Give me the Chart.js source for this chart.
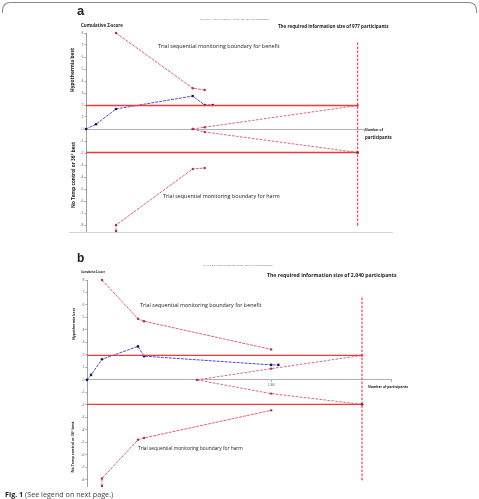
<!DOCTYPE html>
<html>
<head>
<meta charset="utf-8">
<script src="https://cdn.jsdelivr.net/npm/chart.js@4.4.1/dist/chart.umd.min.js"></script>
<style>
  body { margin:0; width:479px; height:499px; position:relative; background:#fff; overflow:hidden; font-family:"Open Sans", sans-serif; }
  canvas { position:absolute; left:0; }
  .t { position:absolute; white-space:nowrap; color:#222; line-height:1; }
  .b { font-weight:bold; }
  .r { transform:translate(-50%,-50%) rotate(-90deg); }
  .frame { position:absolute; left:2px; top:2px; width:473px; height:10px; border:1px solid #8a8a8a; border-bottom:none; border-radius:8px 8px 0 0; }
  .rule { position:absolute; left:69px; top:232px; width:324px; border-top:1px solid #d4d4d4; }
</style>
</head>
<body>
<div class="frame"></div>
<div class="rule"></div>
<canvas id="chartA" width="479" height="250" style="top:0"></canvas>
<canvas id="chartB" width="479" height="249" style="top:250px"></canvas>

<div class="t b" style="left:77px;top:4px;font-size:13px;font-family:'Liberation Sans'">a</div>
<div class="t" data-x="200" data-y="19.5" data-w="70" style="color:#666">TS: RIS 977, Alpha 5%, Beta 20%, Pc 50%, RRR 20%, Trial heterogeneity</div>
<div class="t b" data-x="81" data-y="24.5" data-w="42">Cumulative Z-score</div>
<div class="t b" data-x="278" data-y="26" data-w="111">The required information size of 977 participants</div>
<div class="t" data-x="158" data-y="46.5" data-w="122">Trial sequential monitoring boundary for benefit</div>
<div class="t" data-x="163" data-y="196.5" data-w="117">Trial sequential monitoring boundary for harm</div>
<div class="t b" data-x="365" data-y="129" data-w="18">Number of</div>
<div class="t b" data-x="365" data-y="136.5" data-w="27">participants</div>
<div class="t b r" data-cx="72" data-cy="70" data-w="44">Hypothermia best</div>
<div class="t b r" data-cx="73" data-cy="175" data-w="66">No Temp control  or 36° best</div>

<div class="t b" style="left:77px;top:252px;font-size:12px;font-family:'Liberation Sans'">b</div>
<div class="t" data-x="203" data-y="266" data-w="70" style="color:#666">TS: RIS 2,040, Alpha 5%, Beta 20%, Pc 50%, RRR 15%, Trial heterogeneity</div>
<div class="t b" data-x="81" data-y="272.5" data-w="24">Cumulative Z-score</div>
<div class="t b" data-x="267" data-y="275.5" data-w="130">The required information size of 2,040 participants</div>
<div class="t" data-x="140" data-y="305" data-w="122">Trial sequential monitoring boundary for benefit</div>
<div class="t" data-x="138" data-y="448.5" data-w="105">Trial sequential monitoring boundary for harm</div>
<div class="t b" data-x="368" data-y="386.5" data-w="40">Number of participants</div>
<div class="t b r" data-cx="74" data-cy="324" data-w="32">Hypothermia best</div>
<div class="t b r" data-cx="73" data-cy="447" data-w="51">No Temp control  or 36° best</div>

<div class="t" data-x="5" data-y="494" data-w="108" style="color:#444"><b style="color:#222">Fig. 1</b> (See legend on next page.)</div>

<script>
// panel a: cumulative Z-curve and boundaries (participants, z)
const aBlueX = [0, 36, 108, 384, 427, 456];
const aBlueZ = [0, 0.4, 1.67, 2.75, 2.0, 2.0];
const aBenefitX = [108, 384, 427];
const aBenefitZ = [8, 3.4, 3.25];
const aHarmX = [108, 108, 384, 427];
const aHarmZ = [-8.5, -8, -3.33, -3.25];
const aFutUpX = [384, 427, 977];
const aFutUpZ = [0, 0.15, 1.96];
const aFutLoX = [384, 427, 977];
const aFutLoZ = [0, -0.25, -1.96];
const aRIS = 977;
const aRISZ = [7.2, -8];

// panel b
const bBlueX = [0, 30, 111, 378, 423, 1366, 1420];
const bBlueZ = [0, 0.4, 1.65, 2.68, 1.9, 1.2, 1.2];
const bBenefitX = [111, 378, 423, 1366];
const bBenefitZ = [8, 4.9, 4.7, 2.44];
const bHarmX = [111, 111, 378, 423, 1366];
const bHarmZ = [-8.5, -7.9, -4.8, -4.65, -2.44];
const bFutUpX = [816, 1366, 2040];
const bFutUpZ = [0, 0.9, 1.96];
const bFutLoX = [816, 1366, 2040];
const bFutLoZ = [0, -1.1, -1.96];
const bRIS = 2040;
const bRISZ = [6.6, -8];
const bXTicks = [1366];

const zConv = 1.96;
const yTicks = [-8, -7, -6, -5, -4, -3, -2, -1, 0, 1, 2, 3, 4, 5, 6, 7, 8];

const pts = (xs, zs) => xs.map((x, i) => ({ x: x, y: zs[i] }));

const pink = '#e2607a';
const red = '#ea3b3b';
const blue = '#4a4ad6';

function line(data, color, opts) {
  return Object.assign({
    data: data, showLine: true, borderColor: color, backgroundColor: color,
    borderWidth: 1, pointRadius: 1.2, pointBorderWidth: 0, clip: false
  }, opts || {});
}

function makeChart(id, p) {
  new Chart(document.getElementById(id).getContext('2d'), {
    type: 'scatter',
    data: {
      datasets: [
        line([{ x: 0, y: zConv }, { x: p.ris, y: zConv }], red, { borderWidth: 1.3, pointRadius: 0 }),
        line([{ x: 0, y: -zConv }, { x: p.ris, y: -zConv }], red, { borderWidth: 1.3, pointRadius: [0, 1.3], backgroundColor: '#a02030' }),
        line([{ x: p.ris, y: p.risZ[0] }, { x: p.ris, y: p.risZ[1] }], '#ee4a62', { borderWidth: 1.2, borderDash: [2.5, 1.5], pointRadius: [0, 0.8] }),
        line(pts(p.futUpX, p.futUpZ), pink, { borderDash: [2.5, 1.5], backgroundColor: '#b03048' }),
        line(pts(p.futLoX, p.futLoZ), pink, { borderDash: [2.5, 1.5], backgroundColor: '#b03048' }),
        line(pts(p.benefitX, p.benefitZ), pink, { borderDash: [3, 1], backgroundColor: '#b03048' }),
        line(pts(p.harmX, p.harmZ), pink, { borderDash: [3, 1], backgroundColor: '#b03048' }),
        line(pts(p.blueX, p.blueZ), blue, { borderDash: [3, 1], backgroundColor: '#1a1a50', pointRadius: 1.3 })
      ]
    },
    options: {
      responsive: false,
      animation: false,
      layout: { padding: p.padding },
      plugins: { legend: { display: false }, tooltip: { enabled: false } },
      scales: {
        x: {
          type: 'linear', min: 0, max: p.xMax,
          position: { y: 0 },
          border: { color: '#b0b0b0', width: 1 },
          grid: { drawOnChartArea: false, drawTicks: true, tickLength: 2, color: '#b0b0b0' },
          ticks: { display: p.xTicks.length > 0, font: { size: 3 }, color: '#666', padding: 1, maxRotation: 0 },
          afterBuildTicks: s => { s.ticks = p.xTicks.concat([p.xMax]).map(v => ({ value: v })); },
          afterTickToLabelConversion: s => { s.ticks.forEach(t => { if (!p.xTicks.includes(t.value)) t.label = ''; }); }
        },
        y: {
          type: 'linear', min: -8.5, max: 8,
          border: { color: '#a0a0a0', width: 1 },
          grid: { drawOnChartArea: false, drawTicks: true, tickLength: 1.5, color: '#a0a0a0' },
          ticks: { font: { size: 3.5 }, color: '#666', padding: 1 },
          afterBuildTicks: s => { s.ticks = yTicks.map(v => ({ value: v })); },
          afterFit: s => { s.width = p.yWidth; }
        }
      }
    }
  });
}

makeChart('chartA', {
  blueX: aBlueX, blueZ: aBlueZ, benefitX: aBenefitX, benefitZ: aBenefitZ,
  harmX: aHarmX, harmZ: aHarmZ, futUpX: aFutUpX, futUpZ: aFutUpZ,
  futLoX: aFutLoX, futLoZ: aFutLoZ, ris: aRIS, risZ: aRISZ,
  xMax: 1000, xTicks: [], yWidth: 86,
  padding: { left: 0, top: 33, right: 115, bottom: 19 }
});

makeChart('chartB', {
  blueX: bBlueX, blueZ: bBlueZ, benefitX: bBenefitX, benefitZ: bBenefitZ,
  harmX: bHarmX, harmZ: bHarmZ, futUpX: bFutUpX, futUpZ: bFutUpZ,
  futLoX: bFutLoX, futLoZ: bFutLoZ, ris: bRIS, risZ: bRISZ,
  xMax: 2255, xTicks: bXTicks, yWidth: 87,
  padding: { left: 0, top: 30, right: 88, bottom: 13 }
});

// size the text labels to the widths seen in the figure
document.querySelectorAll('.t[data-w]').forEach(el => {
  const w = +el.dataset.w;
  el.style.fontSize = '10px';
  const fs = 10 * w / el.offsetWidth;
  el.style.fontSize = fs + 'px';
  if (el.classList.contains('r')) {
    el.style.left = el.dataset.cx + 'px';
    el.style.top = el.dataset.cy + 'px';
  } else {
    el.style.left = el.dataset.x + 'px';
    el.style.top = (+el.dataset.y - el.offsetHeight / 2) + 'px';
  }
});
</script>
</body>
</html>
